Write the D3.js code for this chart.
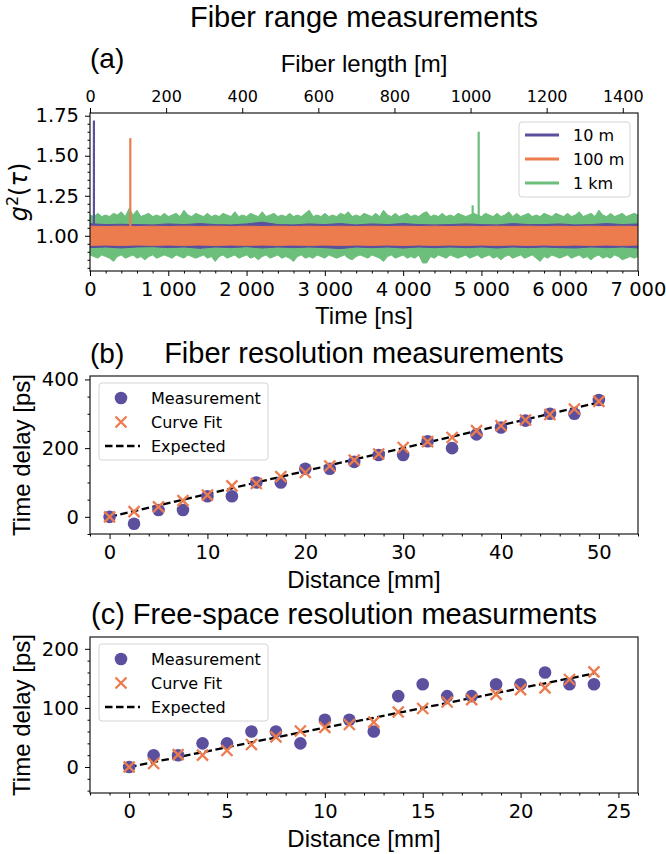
<!DOCTYPE html>
<html>
<head>
<meta charset="utf-8">
<script src="https://cdn.jsdelivr.net/npm/d3@7"></script>
<style>
  body { margin: 0; background: #fff; }
  svg { display: block; }
</style>
</head>
<body>
<div id="chart"></div>
<script>
// ---- data ----

// (a) g2 traces: upper / lower noise envelope, sampled evenly over 0..7000 ns
const aSeries = ['10 m', '100 m', '1 km'];
const greenHi = [1.13, 1.12, 1.14, 1.12, 1.13, 1.12, 1.14, 1.13, 1.15, 1.12,
                 1.17, 1.13, 1.16, 1.12, 1.13, 1.14, 1.12, 1.13, 1.12, 1.14,
                 1.12, 1.13, 1.14, 1.12, 1.16, 1.13, 1.12, 1.14, 1.13, 1.12,
                 1.14, 1.12, 1.13, 1.12, 1.14, 1.13, 1.12, 1.15, 1.12, 1.13,
                 1.12, 1.14, 1.13, 1.12, 1.15, 1.12, 1.13, 1.14, 1.12, 1.13,
                 1.12, 1.14, 1.12, 1.13, 1.12, 1.14, 1.16, 1.12, 1.13, 1.12,
                 1.14, 1.12, 1.13, 1.12, 1.14, 1.13, 1.15, 1.12, 1.13, 1.12,
                 1.14, 1.13, 1.12, 1.14, 1.12, 1.16, 1.13, 1.12, 1.14, 1.12,
                 1.13, 1.14, 1.12, 1.13, 1.12, 1.14, 1.15, 1.12, 1.13, 1.12,
                 1.14, 1.12, 1.13, 1.12, 1.14, 1.13, 1.12, 1.13, 1.14, 1.13,
                 1.12, 1.14, 1.13, 1.12, 1.14, 1.12, 1.13, 1.15, 1.12, 1.14,
                 1.12, 1.13, 1.14, 1.12, 1.13, 1.12, 1.14, 1.13, 1.12, 1.14,
                 1.13, 1.12, 1.14, 1.12, 1.13, 1.15, 1.12, 1.13, 1.14, 1.12,
                 1.16, 1.13, 1.12, 1.14, 1.12, 1.13, 1.14, 1.12, 1.13, 1.14,
                 1.13];
const greenLo = [0.88, 0.87, 0.86, 0.88, 0.87, 0.86, 0.84, 0.87, 0.88, 0.86,
                 0.87, 0.88, 0.86, 0.87, 0.85, 0.87, 0.88, 0.86, 0.87, 0.88,
                 0.87, 0.86, 0.88, 0.87, 0.86, 0.88, 0.87, 0.86, 0.87, 0.88,
                 0.86, 0.87, 0.84, 0.87, 0.88, 0.86, 0.87, 0.88, 0.86, 0.87,
                 0.88, 0.86, 0.87, 0.85, 0.87, 0.88, 0.86, 0.87, 0.88, 0.86,
                 0.87, 0.86, 0.84, 0.87, 0.88, 0.86, 0.87, 0.86, 0.88, 0.87,
                 0.86, 0.88, 0.87, 0.86, 0.87, 0.88, 0.86, 0.85, 0.87, 0.88,
                 0.87, 0.86, 0.88, 0.87, 0.86, 0.84, 0.87, 0.88, 0.86, 0.87,
                 0.88, 0.86, 0.87, 0.86, 0.88, 0.83, 0.83, 0.87, 0.86, 0.88,
                 0.87, 0.86, 0.88, 0.87, 0.86, 0.87, 0.88, 0.86, 0.87, 0.88,
                 0.86, 0.87, 0.88, 0.86, 0.87, 0.85, 0.87, 0.88, 0.86, 0.87,
                 0.88, 0.86, 0.87, 0.88, 0.86, 0.84, 0.87, 0.86, 0.88, 0.87,
                 0.86, 0.87, 0.88, 0.86, 0.87, 0.88, 0.86, 0.87, 0.85, 0.87,
                 0.88, 0.86, 0.87, 0.86, 0.88, 0.87, 0.85, 0.86, 0.87, 0.86,
                 0.87];
const purpleHi = [1.075, 1.07, 1.072, 1.07, 1.068, 1.074, 1.07, 1.076, 1.07, 1.068,
                  1.074, 1.085, 1.07, 1.068, 1.074, 1.07, 1.076, 1.068, 1.074, 1.07,
                  1.076, 1.07, 1.068, 1.07, 1.074, 1.07, 1.068, 1.076, 1.07, 1.07,
                  1.074, 1.068, 1.07, 1.076, 1.07, 1.074];
const purpleLo = [0.926, 0.93, 0.924, 0.93, 0.932, 0.926, 0.93, 0.922, 0.93, 0.926,
                  0.932, 0.924, 0.93, 0.926, 0.93, 0.926, 0.92, 0.93, 0.926, 0.93,
                  0.924, 0.93, 0.926, 0.93, 0.926, 0.93, 0.924, 0.93, 0.926, 0.93,
                  0.926, 0.924, 0.93, 0.926, 0.93, 0.924];
const orangeHi = [1.06, 1.058, 1.06, 1.058, 1.06, 1.058, 1.06, 1.058, 1.06, 1.058,
                  1.06, 1.058, 1.06, 1.058, 1.06, 1.058, 1.06, 1.058, 1.06, 1.058,
                  1.06, 1.058, 1.06, 1.058, 1.06, 1.058, 1.06, 1.058, 1.06, 1.058,
                  1.06, 1.058, 1.06, 1.058, 1.06, 1.058];
const orangeLo = [0.94, 0.942, 0.94, 0.942, 0.94, 0.942, 0.94, 0.942, 0.94, 0.942,
                  0.94, 0.942, 0.94, 0.942, 0.94, 0.942, 0.94, 0.942, 0.94, 0.942,
                  0.94, 0.942, 0.94, 0.942, 0.94, 0.942, 0.94, 0.942, 0.94, 0.942,
                  0.94, 0.942, 0.94, 0.942, 0.94, 0.942];
// reflection peaks: which trace, time [ns], peak height
const spikeSeries = ['10 m', '100 m', '1 km', '1 km'];
const spikeTime = [50, 515, 4965, 4888];
const spikePeak = [1.72, 1.61, 1.65, 1.19];

const aTimeTicks = [0, 1000, 2000, 3000, 4000, 5000, 6000, 7000];
const aLengthTicks = [0, 200, 400, 600, 800, 1000, 1200, 1400];
const aYTicks = [1.00, 1.25, 1.50, 1.75];

// (b) fiber resolution
const bDistance = [0, 2.5, 5, 7.5, 10, 12.5, 15, 17.5, 20, 22.5, 25,
                   27.5, 30, 32.5, 35, 37.5, 40, 42.5, 45, 47.5, 50];
const bMeasured = [0, -20, 20, 20, 60, 60, 100, 100, 140, 140, 160,
                   180, 180, 220, 200, 240, 260, 280, 300, 300, 340];
const bFit = [0, 15, 29, 47, 63, 90, 97, 117, 129, 148, 165,
              183, 202, 219, 231, 251, 265, 282, 298, 314, 336];
const bExpectedX = [0, 50];
const bExpectedY = [0, 333.3];
const bXTicks = [0, 10, 20, 30, 40, 50];
const bYTicks = [0, 200, 400];

// (c) free-space resolution
const cDistance = [0, 1.25, 2.5, 3.75, 5, 6.25, 7.5, 8.75, 10, 11.25,
                   12.5, 13.75, 15, 16.25, 17.5, 18.75, 20, 21.25, 22.5, 23.75];
const cMeasured = [0, 20, 20, 40, 40, 60, 60, 40, 80, 80,
                   60, 120, 140, 120, 120, 140, 140, 160, 140, 140];
const cFit = [0, 6, 21, 20, 28, 38, 51, 61, 67, 72,
              76, 93, 99, 110, 114, 123, 131, 134, 148, 161];
const cExpectedX = [0, 23.75];
const cExpectedY = [0, 158.3];
const cXTicks = [0, 5, 10, 15, 20, 25];
const cYTicks = [0, 100, 200];

const legendLabels = ['Measurement', 'Curve Fit', 'Expected'];

// ---- styling ----
const purple = '#5b4f9e', orange = '#ec7b4e', green = '#6cbe7b';
const seriesColor = { '10 m': purple, '100 m': orange, '1 km': green };
const titleFont = 'Liberation Sans, Arial, sans-serif';
const tickFont = 'DejaVu Sans, sans-serif';
const left = 90, right = 638;

const svg = d3.select('#chart').append('svg')
    .attr('width', 666)
    .attr('height', 854);

function drawAxis(orient, scale, at, majors, minors, fmt, size) {
    const make = { bottom: d3.axisBottom, top: d3.axisTop, left: d3.axisLeft }[orient];
    const tr = orient === 'left' ? `translate(${at},0)` : `translate(0,${at})`;
    const minorVals = minors.filter(v => !majors.some(m => Math.abs(m - v) < 1e-9));
    svg.append('g')
        .attr('transform', tr)
        .call(make(scale).tickValues(minorVals).tickSize(2.5).tickFormat(''))
        .call(g => g.select('.domain').remove())
        .selectAll('line').attr('stroke', '#000');
    const g = svg.append('g')
        .attr('transform', tr)
        .call(make(scale).tickValues(majors).tickSize(5).tickPadding(6).tickFormat(fmt))
        .call(g => g.select('.domain').remove());
    g.attr('font-family', tickFont).attr('font-size', size);
    g.selectAll('line').attr('stroke', '#000');
    g.selectAll('text').attr('fill', '#000');
}

function frame(top, bottom) {
    svg.append('rect')
        .attr('x', left).attr('y', top)
        .attr('width', right - left).attr('height', bottom - top)
        .attr('fill', 'none').attr('stroke', '#1a1a1a').attr('stroke-width', 1.2);
}

function text(x, y, str, size, anchor, family) {
    return svg.append('text')
        .attr('x', x).attr('y', y)
        .attr('text-anchor', anchor || 'middle')
        .attr('font-family', family || titleFont)
        .attr('font-size', size)
        .attr('fill', '#000')
        .text(str);
}

// ---- (a) Fiber range ----
const aTop = 113, aBottom = 271;
const xA = d3.scaleLinear().domain([0, 7000]).range([left, right]);
const xALen = d3.scaleLinear().domain([0, 1440]).range([left, right]);
const yA = d3.scaleLinear().domain([0.78, 1.767]).range([aBottom, aTop]);

svg.append('clipPath').attr('id', 'clipA')
    .append('rect').attr('x', left).attr('y', aTop)
    .attr('width', right - left).attr('height', aBottom - aTop);
const plotA = svg.append('g').attr('clip-path', 'url(#clipA)');

function band(hi, lo, color) {
    const step = 7000 / (hi.length - 1);
    const area = d3.area()
        .x((d, i) => xA(i * step))
        .y0((d, i) => yA(lo[i]))
        .y1(d => yA(d));
    plotA.append('path')
        .attr('d', area(hi))
        .attr('fill', color)
        .attr('stroke', color)
        .attr('stroke-width', 1)
        .attr('stroke-linejoin', 'miter');
}

function spikes(name) {
    const line = d3.line().x(d => xA(d[0])).y(d => yA(d[1]));
    spikeSeries.forEach((s, i) => {
        if (s !== name) return;
        plotA.append('path')
            .attr('d', line([[spikeTime[i], 1.0], [spikeTime[i], spikePeak[i]]]))
            .attr('stroke', seriesColor[s])
            .attr('stroke-width', 2.2)
            .attr('fill', 'none');
    });
}

band(greenHi, greenLo, green);
spikes('1 km');
band(purpleHi, purpleLo, purple);
spikes('10 m');
band(orangeHi, orangeLo, orange);
spikes('100 m');

frame(aTop, aBottom);
drawAxis('bottom', xA, aBottom, aTimeTicks, d3.range(0, 7001, 200),
    d => d === 0 ? '0' : `${d / 1000} 000`, 19.5);
drawAxis('top', xALen, aTop, aLengthTicks, [], d => d, 16);
drawAxis('left', yA, left, aYTicks, d3.range(0.8, 1.76, 0.05).map(v => +v.toFixed(2)),
    d3.format('.2f'), 19.5);

// legend (a)
const legA = svg.append('g');
legA.append('rect')
    .attr('x', 519).attr('y', 122).attr('width', 111).attr('height', 75).attr('rx', 3)
    .attr('fill', '#fff').attr('fill-opacity', 0.85).attr('stroke', '#d4d4d4');
aSeries.forEach((name, i) => {
    const y = 135 + 24 * i;
    legA.append('line')
        .attr('x1', 525).attr('x2', 559).attr('y1', y).attr('y2', y)
        .attr('stroke', seriesColor[name]).attr('stroke-width', 3);
    legA.append('text')
        .attr('x', 573).attr('y', y).attr('dy', '0.35em')
        .attr('font-family', tickFont).attr('font-size', 16)
        .text(name);
});

text(364, 27, 'Fiber range measurements', 29);
text(90, 68, '(a)', 28, 'start');
text(364, 72, 'Fiber length [m]', 24);
text(364, 324, 'Time [ns]', 24);

const gLabel = svg.append('text')
    .attr('transform', `translate(27,${(aTop + aBottom) / 2}) rotate(-90)`)
    .attr('text-anchor', 'middle')
    .attr('font-family', tickFont)
    .attr('font-size', 24);
gLabel.append('tspan').attr('font-style', 'italic').text('g');
gLabel.append('tspan').attr('font-size', 16).attr('dy', -9).text('2');
gLabel.append('tspan').attr('dy', 9).text('(');
gLabel.append('tspan').attr('font-style', 'italic').text('τ');
gLabel.append('tspan').text(')');

// ---- (b) and (c) resolution panels ----
function resolutionPanel(p) {
    const x = d3.scaleLinear().domain(p.xDomain).range([left, right]);
    const y = d3.scaleLinear().domain(p.yDomain).range([p.bottom, p.top]);

    const line = d3.line().x(d => x(d[0])).y(d => y(d[1]));

    svg.append('path')
        .attr('d', line(p.expX.map((v, i) => [v, p.expY[i]])))
        .attr('stroke', '#000').attr('stroke-width', 2.3)
        .attr('stroke-dasharray', '7.5,3.5').attr('fill', 'none');

    svg.append('g').selectAll('circle')
        .data(p.dist)
        .enter()
        .append('circle')
        .attr('cx', d => x(d))
        .attr('cy', (d, i) => y(p.meas[i]))
        .attr('r', 6.3)
        .attr('fill', purple);

    svg.append('g').selectAll('path')
        .data(p.dist)
        .enter()
        .append('path')
        .attr('transform', (d, i) => `translate(${x(d)},${y(p.fit[i])})`)
        .attr('d', 'M-5.5,-5.5L5.5,5.5M-5.5,5.5L5.5,-5.5')
        .attr('stroke', orange).attr('stroke-width', 2.3).attr('fill', 'none');

    frame(p.top, p.bottom);
    drawAxis('bottom', x, p.bottom, p.xTicks, p.xMinor, d => d, 19.5);
    drawAxis('left', y, left, p.yTicks, p.yMinor, d => d, 19.5);

    // legend
    const lg = svg.append('g');
    const ly = p.top + 7;
    lg.append('rect')
        .attr('x', 99).attr('y', ly).attr('width', 169).attr('height', 77).attr('rx', 3)
        .attr('fill', '#fff').attr('fill-opacity', 0.85).attr('stroke', '#d4d4d4');
    legendLabels.forEach((name, i) => {
        const yy = ly + 15 + 24 * i;
        if (i === 0) {
            lg.append('circle').attr('cx', 121).attr('cy', yy).attr('r', 6.3).attr('fill', purple);
        } else if (i === 1) {
            lg.append('path')
                .attr('transform', `translate(121,${yy})`)
                .attr('d', 'M-5.5,-5.5L5.5,5.5M-5.5,5.5L5.5,-5.5')
                .attr('stroke', orange).attr('stroke-width', 2.3);
        } else {
            lg.append('line')
                .attr('x1', 105).attr('x2', 140).attr('y1', yy).attr('y2', yy)
                .attr('stroke', '#000').attr('stroke-width', 2.3)
                .attr('stroke-dasharray', '7.5,3.5');
        }
        lg.append('text')
            .attr('x', 151).attr('y', yy).attr('dy', '0.35em')
            .attr('font-family', tickFont).attr('font-size', 16)
            .text(name);
    });

    svg.append('text')
        .attr('transform', `translate(30,${(p.top + p.bottom) / 2}) rotate(-90)`)
        .attr('text-anchor', 'middle')
        .attr('font-family', titleFont).attr('font-size', 24)
        .text('Time delay [ps]');
    text(364, p.bottom + 54, 'Distance [mm]', 24);
}

resolutionPanel({
    top: 376, bottom: 534,
    xDomain: [-2, 54], yDomain: [-50, 410],
    xTicks: bXTicks, xMinor: d3.range(-2, 54.1, 2),
    yTicks: bYTicks, yMinor: d3.range(-50, 410, 50),
    dist: bDistance, meas: bMeasured, fit: bFit,
    expX: bExpectedX, expY: bExpectedY
});
text(90, 363, '(b)', 28, 'start');
text(364, 363, 'Fiber resolution measurements', 29);

resolutionPanel({
    top: 637, bottom: 793,
    xDomain: [-2, 26], yDomain: [-44, 220],
    xTicks: cXTicks, xMinor: d3.range(-2, 26.1, 1),
    yTicks: cYTicks, yMinor: d3.range(-40, 220, 20),
    dist: cDistance, meas: cMeasured, fit: cFit,
    expX: cExpectedX, expY: cExpectedY
});
text(91, 624, '(c) Free-space resolution measurments', 29, 'start');
</script>
</body>
</html>
